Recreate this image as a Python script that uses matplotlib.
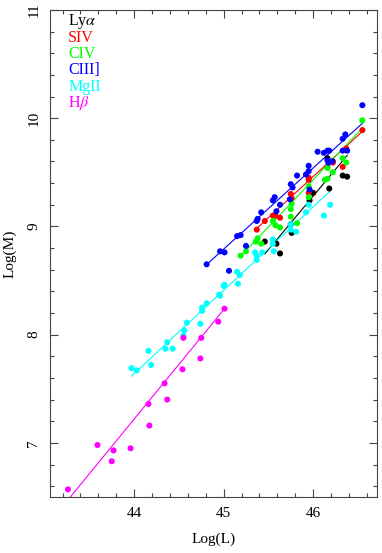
import numpy as np
import matplotlib
matplotlib.use("Agg")
import matplotlib.pyplot as plt
from matplotlib.ticker import MultipleLocator

plt.rcParams['font.family'] = ['Liberation Serif', 'DejaVu Serif']
plt.rcParams['mathtext.fontset'] = 'stix'

# Log(L), Log(M) per emission line
lya_x = [45.46, 45.59, 45.63, 45.75, 45.76, 45.96, 46.00, 46.16, 46.18, 46.22, 46.33, 46.38]
lya_y = [8.86, 8.84, 8.75, 9.02, 8.94, 9.24, 9.31, 9.63, 9.35, 9.60, 9.47, 9.46]

siv_x = [45.37, 45.46, 45.55, 45.58, 45.63, 45.75, 45.76, 45.95, 45.95, 45.95,
         46.16, 46.22, 46.33, 46.37, 46.55]
siv_y = [8.97, 9.05, 9.10, 9.10, 9.08, 9.30, 9.26, 9.43, 9.45, 9.31,
         9.55, 9.59, 9.55, 9.72, 9.89]

civ_x = [45.19, 45.25, 45.36, 45.38, 45.42, 45.55, 45.58, 45.63, 45.75, 45.76, 45.75,
         45.82, 45.95, 45.95, 46.16, 46.13, 46.16, 46.22, 46.33, 46.37, 46.55]
civ_y = [8.73, 8.77, 8.86, 8.89, 8.84, 9.05, 9.01, 8.99, 9.16, 9.21, 9.09,
         9.03, 9.37, 9.27, 9.54, 9.43, 9.44, 9.50, 9.63, 9.59, 9.98]

ciii_x = [44.81, 44.96, 45.01, 45.06, 45.15, 45.19, 45.25, 45.37, 45.38, 45.42, 45.55,
          45.57, 45.59, 45.63, 45.74, 45.75, 45.77, 45.82, 45.92, 45.95, 45.95, 45.96,
          46.05, 46.12, 46.16, 46.18, 46.16, 46.17, 46.21, 46.33, 46.38, 46.33, 46.36, 46.55]
ciii_y = [8.65, 8.77, 8.76, 8.59, 8.91, 8.92, 8.82, 9.05, 9.07, 9.13, 9.24,
          9.27, 9.14, 9.20, 9.25, 9.39, 9.36, 9.47, 9.48, 9.56, 9.51, 9.34,
          9.69, 9.68, 9.70, 9.70, 9.61, 9.59, 9.60, 9.70, 9.70, 9.81, 9.85, 10.12]

mgii_x = [43.97, 44.03, 44.16, 44.19, 44.37, 44.35, 44.43, 44.56, 44.55, 44.59, 44.74,
          44.76, 44.76, 44.81, 44.95, 44.96, 45.00, 45.01, 45.15, 45.16, 45.18, 45.35,
          45.37, 45.37, 45.43, 45.55, 45.55, 45.56, 45.75, 45.75, 45.81, 45.92, 45.95,
          46.12, 46.19]
mgii_y = [7.69, 7.67, 7.85, 7.72, 7.93, 7.87, 7.87, 8.04, 7.99, 8.11, 8.10,
          8.25, 8.22, 8.29, 8.37, 8.36, 8.45, 8.46, 8.58, 8.47, 8.55, 8.76,
          8.73, 8.69, 8.76, 8.88, 8.84, 8.77, 9.02, 8.97, 8.95, 9.13, 9.20,
          9.10, 9.20]

hb_x = [43.26, 43.59, 43.77, 43.75, 43.96, 44.16, 44.17, 44.34, 44.37, 44.54, 44.55,
        44.74, 44.75, 44.94, 45.01]
hb_y = [6.57, 6.98, 6.93, 6.83, 6.95, 7.36, 7.16, 7.55, 7.40, 7.68, 7.97,
        7.78, 7.97, 8.12, 8.24]

# fitted lines: slope, intercept
fit_lya = (0.99, -36.26)
fit_siv = (0.76, -25.50)
fit_civ = (0.87, -30.59)
fit_ciii = (0.75, -24.96)
fit_mgii = (0.77, -26.24)
fit_hb = (1.01, -37.22)

labels = ['Ly$\\alpha$', 'SIV', 'CIV', 'CIII]', 'MgII', 'H$\\beta$']
colors = ['black', '#ff0000', '#00ff00', '#0000ff', '#00ffff', '#ff00ff']

series = [(lya_x, lya_y, fit_lya), (siv_x, siv_y, fit_siv), (civ_x, civ_y, fit_civ),
          (ciii_x, ciii_y, fit_ciii), (mgii_x, mgii_y, fit_mgii), (hb_x, hb_y, fit_hb)]

fig = plt.figure(figsize=(3.82, 5.53), dpi=100)
ax = fig.add_axes([0.1309, 0.1013, 0.8552, 0.8807])

for (xs, ys, fit), c in zip(series, colors):
    ax.scatter(xs, ys, s=19, color=c, edgecolors='none', zorder=3)
    xx = np.array([min(xs), max(xs)])
    ax.plot(xx, fit[0] * xx + fit[1], color=c, lw=0.8, zorder=2)

ax.set_xlim(43.06, 46.71)
ax.set_ylim(6.5, 11.0)
ax.xaxis.set_major_locator(MultipleLocator(1))
ax.xaxis.set_minor_locator(MultipleLocator(0.2))
ax.yaxis.set_major_locator(MultipleLocator(1))
ax.yaxis.set_minor_locator(MultipleLocator(0.2))
ax.tick_params(which='both', direction='in', top=True, right=True, labelsize=11,
               width=0.8, color='#444444')
ax.tick_params(which='major', length=6)
ax.tick_params(which='minor', length=3)
ax.tick_params(axis='x', pad=7)
ax.tick_params(axis='y', pad=7, labelrotation=90)
for lab in ax.get_yticklabels():
    lab.set_va('center')
for sp in ax.spines.values():
    sp.set_linewidth(0.8)
    sp.set_color('#444444')

ax.set_xlabel('Log(L)', fontsize=11, labelpad=9)
ax.set_ylabel('Log(M)', fontsize=11, labelpad=8)

for i, (lab, c) in enumerate(zip(labels, colors)):
    ax.text(0.056, 0.977 - i * 0.0337, lab, color=c, fontsize=11.5,
            transform=ax.transAxes, ha='left', va='center')

fig.savefig('out.png', dpi=100)
